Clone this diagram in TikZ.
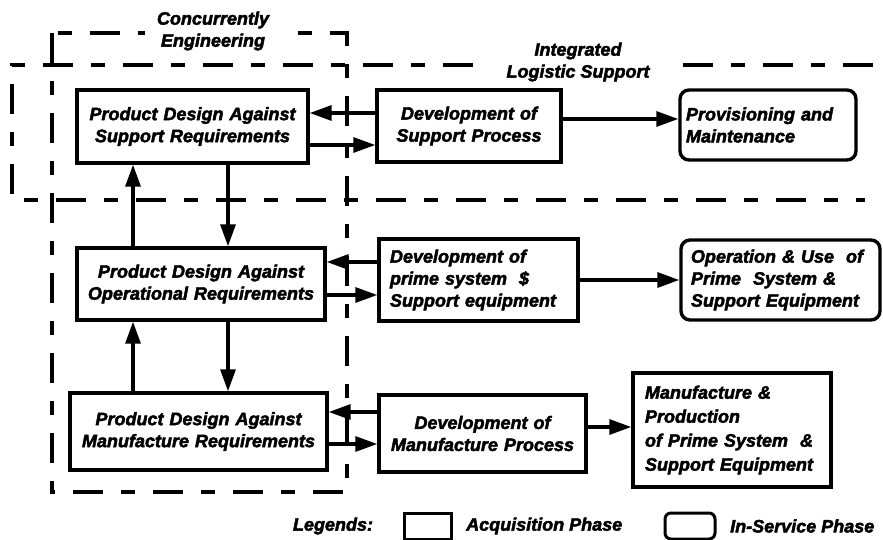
\documentclass[tikz,border=0pt]{standalone}
\usepackage{fontspec}
\setmainfont{Liberation Sans}[BoldItalicFeatures={FakeBold=2.5}]
\usetikzlibrary{arrows.meta}
\begin{document}
\begin{tikzpicture}[x=1pt,y=-1pt,
  font=\fontsize{18}{22}\selectfont\bfseries\itshape,
  box/.style={draw, line width=3.4pt, inner xsep=2pt, inner ysep=0pt, align=center},
  lbox/.style={box, align=left},
  rnd/.style={rounded corners=9pt},
  region/.style={line width=3.4pt, dash pattern=on 30pt off 18pt on 14pt off 18pt},
  arr/.style={line width=3.2pt, -{Triangle[length=22pt,width=15pt]}},
  tag/.style={fill=white, align=center, inner ysep=1pt},
  legtext/.style={inner sep=0pt}]
\useasboundingbox (0,0) rectangle (883,540);

% region boundaries: concurrent engineering and integrated logistic support
\draw[region] (52,33) rectangle (347,492);
\draw[region] (873,65) -- (12,65) -- (12,200) -- (865,200);
\node[tag, inner xsep=12pt] (ce) at (213,31) {Concurrently\\Engineering};
\node[tag, inner xsep=16pt] (ils) at (578,62) {Integrated\\Logistic Support};

% design column
\node[box, minimum width=231pt, minimum height=73pt, text width=221pt] (pds) at (192.5,126.5)
  {Product Design Against\\Support Requirements};
\node[box, minimum width=248pt, minimum height=72pt, text width=238pt] (pdo) at (201,284)
  {Product Design Against\\Operational Requirements};
\node[box, minimum width=257pt, minimum height=77pt, text width=247pt] (pdm) at (198.5,431.5)
  {Product Design Against\\Manufacture Requirements};

% development column
\node[box, minimum width=184pt, minimum height=72pt, text width=174pt] (dsp) at (469,126)
  {Development of\\Support Process};
\node[lbox, minimum width=199pt, minimum height=82pt, text width=177pt] (dps) at (478.5,280)
  {Development of\\prime system\ \ \$\\Support equipment};
\node[box, minimum width=207pt, minimum height=77pt, text width=197pt] (dmp) at (482.5,433.5)
  {Development of\\Manufacture Process};

% outcome column
\node[lbox, rnd, minimum width=176pt, minimum height=70pt, text width=164pt] (pm) at (768,125)
  {Provisioning and\\Maintenance};
\node[lbox, rnd, minimum width=199pt, minimum height=80pt, text width=179pt] (ou) at (780.5,280)
  {Operation \& Use\ \ of\\Prime\ \ System \&\\Support Equipment};
\node[lbox, minimum width=198pt, minimum height=114pt, text width=174pt,
      font=\fontsize{18}{24}\selectfont\bfseries\itshape] (mp) at (732,430)
  {Manufacture \&\\Production\\of Prime System\ \ \&\\Support Equipment};

% connectors
\draw[arr] (dsp.west |- 0,113) -- (pds.east |- 0,113);
\draw[arr] (pds.east |- 0,145) -- (dsp.west |- 0,145);
\draw[arr] (dsp.east |- 0,119) -- (pm.west |- 0,119);
\draw[arr] (pds.south -| 228,0) -- (pdo.north -| 228,0);
\draw[arr] (pdo.north -| 133,0) -- (pds.south -| 133,0);
\draw[arr] (dps.west |- 0,262) -- (pdo.east |- 0,262);
\draw[arr] (pdo.east |- 0,295) -- (dps.west |- 0,295);
\draw[arr] (dps.east |- 0,280) -- (ou.west |- 0,280);
\draw[arr] (pdo.south -| 228,0) -- (pdm.north -| 228,0);
\draw[arr] (pdm.north -| 133,0) -- (pdo.south -| 133,0);
\draw[arr] (dmp.west |- 0,412) -- (pdm.east |- 0,412);
\draw[arr] (pdm.east |- 0,444) -- (dmp.west |- 0,444);
\draw[arr] (dmp.east |- 0,427) -- (mp.west |- 0,427);

% legend
\node[legtext] (leg) at (333,526) {Legends:};
\node[draw, line width=3pt, minimum width=47pt, minimum height=26pt] (acqbox) at (427.5,526) {};
\node[legtext, anchor=west] (acq) at (466,526) {Acquisition Phase};
\node[draw, line width=3pt, rounded corners=6pt, minimum width=50pt, minimum height=26pt] (insbox) at (690,526) {};
\node[legtext, anchor=west] (ins) at (730,526) {In-Service Phase};
\end{tikzpicture}
\end{document}
